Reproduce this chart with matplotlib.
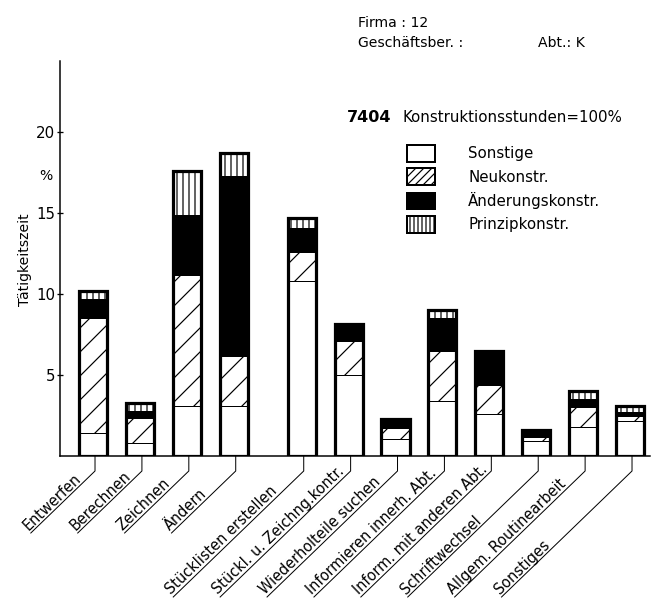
import numpy as np
import matplotlib
matplotlib.use("Agg")
import matplotlib.pyplot as plt
from matplotlib.lines import Line2D

# -----------------------------
# Data (% of 7404 design hours)
# -----------------------------
activities = ["Entwerfen", "Berechnen", "Zeichnen", "Ändern",
              "Stücklisten erstellen", "Stückl. u. Zeichng.kontr.",
              "Wiederholteile suchen", "Informieren innerh. Abt.",
              "Inform. mit anderen Abt.", "Schriftwechsel",
              "Allgem. Routinearbeit", "Sonstiges"]

sonstige = [1.4, 0.8, 3.1, 3.1, 10.8, 5.0, 1.05, 3.4, 2.6, 0.9, 1.8, 2.15]
neukonstr = [7.1, 1.55, 8.1, 3.1, 1.8, 2.1, 0.65, 3.1, 1.8, 0.3, 1.2, 0.3]
aenderungskonstr = [1.2, 0.45, 3.7, 11.1, 1.5, 1.05, 0.6, 2.0, 2.1, 0.4, 0.55, 0.25]
prinzipkonstr = [0.5, 0.5, 2.7, 1.4, 0.6, 0.0, 0.0, 0.5, 0.0, 0.0, 0.45, 0.4]

series_names = ["Sonstige", "Neukonstr.", "Änderungskonstr.", "Prinzipkonstr."]
yticks = [5, 10, 15, 20]

# -----------------------------
# Figure (72 dpi so 1 pt = 1 px)
# -----------------------------
W, H = 653, 599
plt.rcParams["font.family"] = ["DejaVu Sans"]
plt.rcParams["hatch.linewidth"] = 1.2

fig = plt.figure(figsize=(W / 72, H / 72), dpi=72)
fig.patch.set_facecolor("white")
ax = fig.add_axes([60 / W, 1 - 456 / H, 590 / W, 395 / H])

# bar slots, with a gap between the first four and the rest
xpos = np.arange(len(activities)) + np.where(np.arange(len(activities)) >= 4, 0.45, 0.0)
width = 0.6

layers = [
    (sonstige, dict(facecolor="white", hatch=None)),
    (neukonstr, dict(facecolor="white", hatch="/")),
    (aenderungskonstr, dict(facecolor="black", hatch=None)),
    (prinzipkonstr, dict(facecolor="white", hatch="||")),
]

bottom = np.zeros(len(activities))
handles = []
for (vals, style), name in zip(layers, series_names):
    bars = ax.bar(xpos, vals, width, bottom=bottom, edgecolor="black",
                  linewidth=1.0, label=name, **style)
    handles.append(bars)
    bottom = bottom + np.array(vals)

# thick outline round each stacked column
ax.bar(xpos, bottom, width, fill=False, edgecolor="black", linewidth=3.2)

ax.set_xlim(-0.704, 11.876)
ax.set_ylim(0, 24.4)
ax.set_xticks([])
ax.set_yticks(yticks)
ax.tick_params(axis="y", direction="inout", length=6, width=1.3,
               labelsize=15, pad=2)
for s in ["top", "right"]:
    ax.spines[s].set_visible(False)
ax.spines["left"].set_linewidth(1.5)
ax.spines["bottom"].set_linewidth(1.5)

# -----------------------------
# Leader lines and slanted, underlined labels
# -----------------------------
ang = 44.0
ca, sa = np.cos(np.radians(ang)), np.sin(np.radians(ang))
for i, (p, lab) in enumerate(zip(xpos, activities)):
    X, Y = ax.transData.transform((p, 0))
    X += 2
    y_knee = H - 471
    y_end = H - 533 if i < 4 else H - 597
    L = (y_knee - y_end) / sa
    x_end = X - L * ca
    xs = np.array([X, X, x_end]) / W
    ys = np.array([Y, y_knee, y_end]) / H
    fig.add_artist(Line2D(xs, ys, color="black", lw=1.0,
                          transform=fig.transFigure))
    tx = x_end - 3 * sa
    ty = y_end + 3 * ca
    fig.text(tx / W, ty / H, lab, rotation=ang, rotation_mode="anchor",
             ha="left", va="baseline", fontsize=14.5)

# -----------------------------
# Texts and legend
# -----------------------------
fig.text(25 / W, 1 - 260 / H, "Tätigkeitszeit", rotation=90,
         ha="center", va="center", fontsize=14)
fig.text(46 / W, 1 - 176 / H, "%", ha="center", va="center", fontsize=14)

fig.text(358 / W, 1 - 23 / H, "Firma : 12", va="center", fontsize=14)
fig.text(358 / W, 1 - 43 / H, "Geschäftsber. :", va="center", fontsize=14)
fig.text(538 / W, 1 - 43 / H, "Abt.: K", va="center", fontsize=14)

fig.text(347 / W, 1 - 118 / H, "7404", va="center", fontsize=16,
         fontweight="semibold")
fig.text(402 / W, 1 - 118 / H, "Konstruktionsstunden=100%", va="center",
         fontsize=15)

leg = ax.legend(handles=handles, labels=series_names, loc="upper left",
                bbox_to_anchor=(407 / W, 1 - 145 / H),
                bbox_transform=fig.transFigure, frameon=False,
                fontsize=15, handlelength=28 / 15, handleheight=20 / 15,
                handletextpad=2.2, labelspacing=0.45, borderpad=0,
                borderaxespad=0)
# legend swatches are small, so draw their hatching denser
for h, hatch in zip(leg.legend_handles, [None, "///", None, "|||"]):
    h.set_linewidth(2.0)
    if hatch:
        h.set_hatch(hatch)

fig.savefig("out.png", dpi=72, facecolor="white")
